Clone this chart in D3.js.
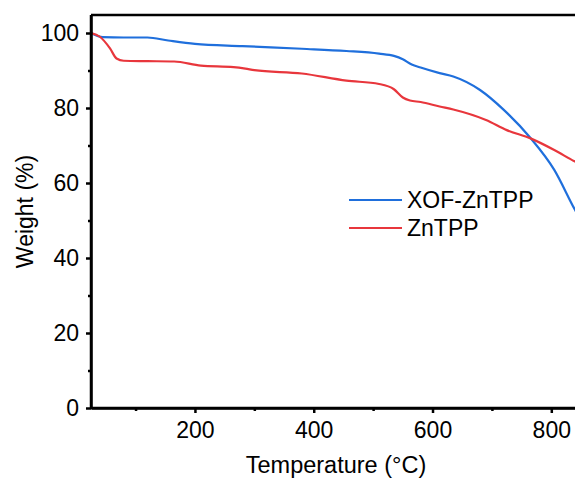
<!DOCTYPE html>
<html>
<head>
<meta charset="utf-8">
<style>
  body { margin: 0; background: #fff; }
  svg { display: block; }
  text { font-family: Arial, "Liberation Sans", sans-serif; fill: #000; }
</style>
</head>
<body>
<svg width="575" height="483"></svg>
<script src="https://d3js.org/d3.v7.min.js"></script>
<script>
// data
var xofTemp = [25, 45, 80, 120, 155, 200, 280, 380, 455, 510, 535, 550, 565, 580, 612, 635, 680, 720, 765, 805, 840, 850];
var xofWeight = [100, 98.9, 98.8, 98.8, 98.0, 97.1, 96.5, 95.8, 95.2, 94.5, 93.9, 93.0, 91.6, 90.8, 89.3, 88.4, 84.8, 79.5, 72.0, 63.5, 52.8, 50.0];

var znTemp = [25, 40, 57, 68, 80, 120, 165, 210, 265, 285, 300, 380, 455, 510, 535, 550, 562, 580, 612, 635, 690, 725, 765, 805, 840, 850];
var znWeight = [100, 99.0, 95.9, 93.2, 92.6, 92.5, 92.4, 91.3, 90.9, 90.5, 90.1, 89.2, 87.3, 86.4, 85.0, 82.8, 82.0, 81.6, 80.4, 79.6, 76.8, 74.1, 71.9, 68.8, 65.7, 64.9];

var xTicks = [200, 400, 600, 800];
var xMinor = [100, 300, 500, 700];
var yTicks = [0, 20, 40, 60, 80, 100];
var yMinor = [10, 30, 50, 70, 90];

var series = [
  {name: "XOF-ZnTPP", color: "#1f6fdc", t: xofTemp, w: xofWeight},
  {name: "ZnTPP", color: "#e8363c", t: znTemp, w: znWeight}
];

var svg = d3.select("svg");
var pLeft = 91, pRight = 581, pTop = 15, pBottom = 408;

var x = d3.scaleLinear().domain([25, 850]).range([pLeft, pRight]);
var y = d3.scaleLinear().domain([0, 104.8]).range([pBottom, pTop]);

svg.append("clipPath").attr("id", "clip")
  .append("rect").attr("x", pLeft).attr("y", pTop).attr("width", pRight - pLeft).attr("height", pBottom - pTop);

var line = d3.line()
  .curve(d3.curveMonotoneX)
  .x(function(d) { return x(d[0]); })
  .y(function(d) { return y(d[1]); });

series.forEach(function(s) {
  var pts = s.t.map(function(t, i) { return [t, s.w[i]]; });
  svg.append("path")
    .attr("clip-path", "url(#clip)")
    .attr("d", line(pts))
    .attr("fill", "none")
    .attr("stroke", s.color)
    .attr("stroke-width", 2.2);
});

// frame top + right
svg.append("line").attr("x1", pLeft).attr("x2", pRight).attr("y1", pTop).attr("y2", pTop)
  .attr("stroke", "#000").attr("stroke-width", 2.5);
svg.append("line").attr("x1", pRight).attr("x2", pRight).attr("y1", pTop).attr("y2", pBottom)
  .attr("stroke", "#000").attr("stroke-width", 2.5);

// axes
var gx = svg.append("g").attr("transform", "translate(0," + pBottom + ")")
  .call(d3.axisBottom(x).tickValues(xTicks).tickSize(5).tickSizeOuter(0).tickPadding(9).tickFormat(d3.format("d")));
var gxm = svg.append("g").attr("transform", "translate(0," + pBottom + ")")
  .call(d3.axisBottom(x).tickValues(xMinor).tickSize(3).tickSizeOuter(0).tickFormat(""));
var gy = svg.append("g").attr("transform", "translate(" + pLeft + ",0)")
  .call(d3.axisLeft(y).tickValues(yTicks).tickSize(5).tickSizeOuter(0).tickPadding(7).tickFormat(d3.format("d")));
var gym = svg.append("g").attr("transform", "translate(" + pLeft + ",0)")
  .call(d3.axisLeft(y).tickValues(yMinor).tickSize(3).tickSizeOuter(0).tickFormat(""));

[gx, gxm, gy, gym].forEach(function(g) {
  g.select(".domain").attr("stroke", "#000").attr("stroke-width", 2.5);
  g.selectAll(".tick line").attr("stroke", "#000").attr("stroke-width", 2.5);
  g.selectAll(".tick text").style("font-size", "23px").style("font-family", "Arial, 'Liberation Sans', sans-serif").attr("fill", "#000");
});
gy.select(".domain").attr("d", "M0," + pBottom + "V" + pTop);
gx.select(".domain").attr("d", "M" + pLeft + ",0H" + pRight);

// axis titles
svg.append("text")
  .attr("x", (pLeft + pRight) / 2).attr("y", 473)
  .attr("text-anchor", "middle").style("font-size", "23.5px")
  .text("Temperature (°C)");
svg.append("text")
  .attr("transform", "translate(33," + ((pTop + pBottom) / 2) + ") rotate(-90)")
  .attr("text-anchor", "middle").style("font-size", "23px")
  .text("Weight (%)");

// legend
var legend = svg.append("g");
series.forEach(function(s, i) {
  var ly = 200 + i * 28;
  legend.append("line").attr("x1", 349).attr("x2", 402).attr("y1", ly).attr("y2", ly)
    .attr("stroke", s.color).attr("stroke-width", 2.2);
  legend.append("text").attr("x", 407).attr("y", ly + 8).style("font-size", "23px").text(s.name);
});
</script>
</body>
</html>
